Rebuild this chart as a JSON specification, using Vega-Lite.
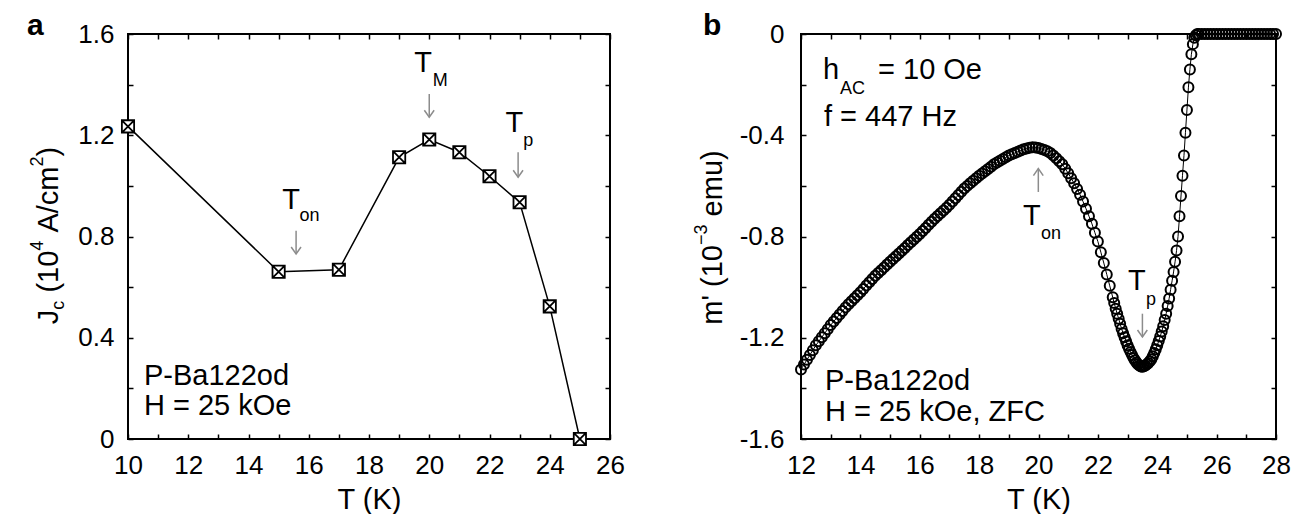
{
"$schema":"https://vega.github.io/schema/vega-lite/v6.json",
"padding":{"left":25,"top":10,"right":10,"bottom":5},
"bounds":"flush",
"spacing":191,
"config":{
 "view":{"stroke":"black","strokeWidth":2},
 "font":"Liberation Sans",
 "axis":{"domain":false,"grid":false,"tickColor":"black","tickWidth":1.5,"tickSize":-5,"labelFontSize":26,"labelColor":"black","labelFont":"Liberation Sans","titleFont":"Liberation Sans","titleFontSize":29,"titleFontWeight":"normal","titleColor":"black","labelOverlap":false,"labelFlush":false,"labelBound":false}
},
"datasets":{
 "jc":[{"T":10,"Jc":1.235},{"T":15,"Jc":0.661},{"T":17,"Jc":0.669},{"T":19,"Jc":1.113},{"T":20,"Jc":1.183},{"T":21,"Jc":1.133},{"T":22,"Jc":1.038},{"T":23,"Jc":0.935},{"T":24,"Jc":0.524},{"T":25,"Jc":0.0}],
 "mp":[
{"T":12.0,"m":-1.325},{"T":12.1,"m":-1.306},{"T":12.2,"m":-1.287},{"T":12.3,"m":-1.268},{"T":12.4,"m":-1.249},{"T":12.5,"m":-1.230},{"T":12.6,"m":-1.214},{"T":12.7,"m":-1.198},{"T":12.8,"m":-1.182},{"T":12.9,"m":-1.166},
{"T":13.0,"m":-1.150},{"T":13.1,"m":-1.136},{"T":13.2,"m":-1.122},{"T":13.3,"m":-1.108},{"T":13.4,"m":-1.094},{"T":13.5,"m":-1.080},{"T":13.6,"m":-1.068},{"T":13.7,"m":-1.056},{"T":13.8,"m":-1.044},{"T":13.9,"m":-1.032},
{"T":14.0,"m":-1.020},{"T":14.1,"m":-1.007},{"T":14.2,"m":-0.994},{"T":14.3,"m":-0.981},{"T":14.4,"m":-0.968},{"T":14.5,"m":-0.955},{"T":14.6,"m":-0.944},{"T":14.7,"m":-0.933},{"T":14.8,"m":-0.922},{"T":14.9,"m":-0.911},
{"T":15.0,"m":-0.900},{"T":15.1,"m":-0.889},{"T":15.2,"m":-0.878},{"T":15.3,"m":-0.867},{"T":15.4,"m":-0.856},{"T":15.5,"m":-0.845},{"T":15.6,"m":-0.834},{"T":15.7,"m":-0.823},{"T":15.8,"m":-0.812},{"T":15.9,"m":-0.801},
{"T":16.0,"m":-0.790},{"T":16.1,"m":-0.778},{"T":16.2,"m":-0.766},{"T":16.3,"m":-0.754},{"T":16.4,"m":-0.742},{"T":16.5,"m":-0.730},{"T":16.6,"m":-0.719},{"T":16.7,"m":-0.708},{"T":16.8,"m":-0.697},{"T":16.9,"m":-0.686},
{"T":17.0,"m":-0.675},{"T":17.1,"m":-0.662},{"T":17.2,"m":-0.649},{"T":17.3,"m":-0.636},{"T":17.4,"m":-0.623},{"T":17.5,"m":-0.610},{"T":17.6,"m":-0.600},{"T":17.7,"m":-0.590},{"T":17.8,"m":-0.580},{"T":17.9,"m":-0.570},
{"T":18.0,"m":-0.560},{"T":18.1,"m":-0.551},{"T":18.2,"m":-0.542},{"T":18.3,"m":-0.533},{"T":18.4,"m":-0.524},{"T":18.5,"m":-0.515},{"T":18.6,"m":-0.508},{"T":18.7,"m":-0.501},{"T":18.8,"m":-0.494},{"T":18.9,"m":-0.487},
{"T":19.0,"m":-0.480},{"T":19.1,"m":-0.475},{"T":19.2,"m":-0.470},{"T":19.3,"m":-0.465},{"T":19.4,"m":-0.460},{"T":19.5,"m":-0.455},{"T":19.6,"m":-0.452},{"T":19.7,"m":-0.449},{"T":19.8,"m":-0.447},{"T":19.9,"m":-0.448},
{"T":20.0,"m":-0.450},{"T":20.1,"m":-0.454},{"T":20.2,"m":-0.458},{"T":20.3,"m":-0.463},{"T":20.4,"m":-0.470},{"T":20.5,"m":-0.480},{"T":20.6,"m":-0.491},{"T":20.7,"m":-0.503},{"T":20.8,"m":-0.515},{"T":20.9,"m":-0.532},
{"T":21.0,"m":-0.550},{"T":21.1,"m":-0.570},{"T":21.2,"m":-0.590},{"T":21.3,"m":-0.612},{"T":21.4,"m":-0.635},{"T":21.5,"m":-0.662},{"T":21.6,"m":-0.690},{"T":21.7,"m":-0.720},{"T":21.8,"m":-0.750},{"T":21.9,"m":-0.785},
{"T":22.0,"m":-0.820},{"T":22.1,"m":-0.862},{"T":22.2,"m":-0.905},{"T":22.3,"m":-0.950},{"T":22.4,"m":-0.995},{"T":22.5,"m":-1.040},{"T":22.55,"m":-1.063},{"T":22.6,"m":-1.085},{"T":22.65,"m":-1.105},{"T":22.7,"m":-1.125},
{"T":22.75,"m":-1.145},{"T":22.8,"m":-1.165},{"T":22.85,"m":-1.182},{"T":22.9,"m":-1.198},{"T":22.95,"m":-1.214},{"T":23.0,"m":-1.230},{"T":23.05,"m":-1.243},{"T":23.1,"m":-1.256},{"T":23.15,"m":-1.268},{"T":23.2,"m":-1.280},
{"T":23.25,"m":-1.289},{"T":23.3,"m":-1.298},{"T":23.35,"m":-1.305},{"T":23.4,"m":-1.310},{"T":23.45,"m":-1.314},{"T":23.5,"m":-1.315},{"T":23.55,"m":-1.313},{"T":23.6,"m":-1.310},{"T":23.65,"m":-1.305},{"T":23.7,"m":-1.300},
{"T":23.75,"m":-1.293},{"T":23.8,"m":-1.285},{"T":23.85,"m":-1.273},{"T":23.9,"m":-1.260},{"T":23.95,"m":-1.245},{"T":24.0,"m":-1.230},{"T":24.05,"m":-1.213},{"T":24.1,"m":-1.195},{"T":24.15,"m":-1.175},{"T":24.2,"m":-1.155},
{"T":24.25,"m":-1.130},{"T":24.3,"m":-1.105},{"T":24.35,"m":-1.075},{"T":24.4,"m":-1.045},{"T":24.45,"m":-1.010},{"T":24.5,"m":-0.975},{"T":24.55,"m":-0.940},{"T":24.6,"m":-0.900},{"T":24.65,"m":-0.855},{"T":24.7,"m":-0.800},
{"T":24.75,"m":-0.720},{"T":24.8,"m":-0.640},{"T":24.85,"m":-0.560},{"T":24.9,"m":-0.480},{"T":24.95,"m":-0.390},{"T":25.0,"m":-0.300},{"T":25.05,"m":-0.210},{"T":25.1,"m":-0.140},{"T":25.15,"m":-0.080},{"T":25.2,"m":-0.040},
{"T":25.25,"m":-0.015},{"T":25.3,"m":-0.005},{"T":25.35,"m":0},{"T":25.4,"m":0},{"T":25.5,"m":0},{"T":25.6,"m":0},{"T":25.7,"m":0},{"T":25.8,"m":0},{"T":25.9,"m":0},{"T":26.0,"m":0},
{"T":26.1,"m":0},{"T":26.2,"m":0},{"T":26.3,"m":0},{"T":26.4,"m":0},{"T":26.5,"m":0},{"T":26.6,"m":0},{"T":26.7,"m":0},{"T":26.8,"m":0},{"T":26.9,"m":0},{"T":27.0,"m":0},
{"T":27.1,"m":0},{"T":27.2,"m":0},{"T":27.3,"m":0},{"T":27.4,"m":0},{"T":27.5,"m":0},{"T":27.6,"m":0},{"T":27.7,"m":0},{"T":27.8,"m":0},{"T":27.9,"m":0},{"T":28.0,"m":0}
 ],
 "txtA":[
  {"T":15.12,"v":0.909,"text":"T","role":"main"},
  {"T":19.50,"v":1.449,"text":"T","role":"main"},
  {"T":22.53,"v":1.212,"text":"T","role":"main"},
  {"T":10.53,"v":0.2133,"text":"P-Ba122od","role":"main"},
  {"T":10.53,"v":0.0948,"text":"H = 25 kOe","role":"main"},
  {"T":15.69,"v":0.863,"text":"on","role":"sub"},
  {"T":20.12,"v":1.396,"text":"M","role":"sub"},
  {"T":23.12,"v":1.159,"text":"p","role":"sub"},
  {"T":6.647,"v":1.596,"text":"a","role":"letter"},
  {"T":7.660,"v":0.4535,"text":"J","role":"ymain"},
  {"T":7.876,"v":0.5108,"text":"c","role":"yscript"},
  {"T":7.660,"v":0.5784,"text":"(10","role":"ymain"},
  {"T":7.178,"v":0.7439,"text":"4","role":"yscript"},
  {"T":7.660,"v":0.8154,"text":"A/cm","role":"ymain"},
  {"T":7.178,"v":1.0761,"text":"2","role":"yscript"},
  {"T":7.660,"v":1.1157,"text":")","role":"ymain"}
 ],
 "txtB":[
  {"T":12.741,"v":-0.1778,"text":"h","role":"main"},
  {"T":14.594,"v":-0.1778,"text":"= 10 Oe","role":"main"},
  {"T":12.775,"v":-0.3635,"text":"f = 447 Hz","role":"main"},
  {"T":12.808,"v":-1.406,"text":"P-Ba122od","role":"main"},
  {"T":12.808,"v":-1.529,"text":"H = 25 kOe, ZFC","role":"main"},
  {"T":19.478,"v":-0.7557,"text":"T","role":"main"},
  {"T":23.015,"v":-1.0125,"text":"T","role":"main"},
  {"T":13.314,"v":-0.237,"text":"AC","role":"sub"},
  {"T":20.084,"v":-0.8087,"text":"on","role":"sub"},
  {"T":23.621,"v":-1.0718,"text":"p","role":"sub"},
  {"T":8.699,"v":-0.004,"text":"b","role":"letter"},
  {"T":9.339,"v":-1.1485,"text":"m' (10","role":"ymain"},
  {"T":8.817,"v":-0.8336,"text":"−3","role":"yscript"},
  {"T":9.339,"v":-0.7206,"text":"emu)","role":"ymain"}
 ],
 "arrA":[{"T":15.58,"tail":0.823,"tip":0.731},{"T":20.0,"tail":1.363,"tip":1.271},{"T":22.95,"tail":1.133,"tip":1.034}],
 "arrB":[{"T":19.994,"tail":-0.624,"tip":-0.532},{"T":23.5,"tail":-1.105,"tip":-1.197}]
},
"hconcat":[
 {
  "width":482,"height":405,
  "resolve":{"axis":{"x":"independent","y":"independent"}},
  "layer":[
   {"data":{"name":"jc"},"mark":{"type":"line","color":"black","strokeWidth":1.5},
    "encoding":{
     "x":{"field":"T","type":"quantitative","scale":{"domain":[10,26],"nice":false,"zero":false},
      "axis":{"orient":"bottom","title":"T (K)","values":[10,11,12,13,14,15,16,17,18,19,20,21,22,23,24,25,26],"labelExpr":"datum.value % 2 === 0 ? '' + datum.value : ''","labelPadding":18,"titlePadding":7}},
     "y":{"field":"Jc","type":"quantitative","scale":{"domain":[0,1.6],"nice":false,"zero":false},
      "axis":{"orient":"left","title":null,"values":[0,0.2,0.4,0.6,0.8,1,1.2,1.4,1.6],"labelExpr":"round(datum.value*10) % 4 === 0 ? '' + datum.value : ''","labelPadding":19}}}},
   {"data":{"name":"jc"},"mark":{"type":"point","shape":"M-1,-1L1,-1L1,1L-1,1Z M-1,-1L1,1 M-1,1L1,-1","size":150,"filled":true,"fill":"white","stroke":"black","strokeWidth":1.8,"opacity":1},
    "encoding":{
     "x":{"field":"T","type":"quantitative","scale":{"domain":[10,26],"nice":false,"zero":false},
      "axis":{"orient":"top","title":null,"labels":false,"values":[10,11,12,13,14,15,16,17,18,19,20,21,22,23,24,25,26]}},
     "y":{"field":"Jc","type":"quantitative","scale":{"domain":[0,1.6],"nice":false,"zero":false},
      "axis":{"orient":"right","title":null,"labels":false,"values":[0,0.2,0.4,0.6,0.8,1,1.2,1.4,1.6]}}}},
   {"data":{"name":"arrA"},"mark":{"type":"rule","color":"#8c8c8c","strokeWidth":1.5},
    "encoding":{
     "x":{"field":"T","type":"quantitative","scale":{"domain":[10,26],"nice":false,"zero":false},"axis":null},
     "y":{"field":"tail","type":"quantitative","scale":{"domain":[0,1.6],"nice":false,"zero":false},"axis":null},
     "y2":{"field":"tip"}}},
   {"data":{"name":"arrA"},"mark":{"type":"point","shape":"M-0.7,-1L0,0L0.7,-1","size":196,"filled":false,"color":"#8c8c8c","strokeWidth":1.5,"opacity":1},
    "encoding":{
     "x":{"field":"T","type":"quantitative","scale":{"domain":[10,26],"nice":false,"zero":false},"axis":null},
     "y":{"field":"tip","type":"quantitative","scale":{"domain":[0,1.6],"nice":false,"zero":false},"axis":null}}},
   {"data":{"name":"txtA"},"transform":[{"filter":"datum.role === 'main'"}],
    "mark":{"type":"text","align":"left","baseline":"alphabetic","fontSize":29,"color":"black"},
    "encoding":{
     "x":{"field":"T","type":"quantitative","scale":{"domain":[10,26],"nice":false,"zero":false},"axis":null},
     "y":{"field":"v","type":"quantitative","scale":{"domain":[0,1.6],"nice":false,"zero":false},"axis":null},
     "text":{"field":"text"}}},
   {"data":{"name":"txtA"},"transform":[{"filter":"datum.role === 'sub'"}],
    "mark":{"type":"text","align":"left","baseline":"alphabetic","fontSize":18,"color":"black"},
    "encoding":{
     "x":{"field":"T","type":"quantitative","scale":{"domain":[10,26],"nice":false,"zero":false},"axis":null},
     "y":{"field":"v","type":"quantitative","scale":{"domain":[0,1.6],"nice":false,"zero":false},"axis":null},
     "text":{"field":"text"}}},
   {"data":{"name":"txtA"},"transform":[{"filter":"datum.role === 'letter'"}],
    "mark":{"type":"text","align":"left","baseline":"alphabetic","fontSize":30,"fontWeight":"bold","color":"black"},
    "encoding":{
     "x":{"field":"T","type":"quantitative","scale":{"domain":[10,26],"nice":false,"zero":false},"axis":null},
     "y":{"field":"v","type":"quantitative","scale":{"domain":[0,1.6],"nice":false,"zero":false},"axis":null},
     "text":{"field":"text"}}},
   {"data":{"name":"txtA"},"transform":[{"filter":"datum.role === 'ymain'"}],
    "mark":{"type":"text","align":"left","baseline":"alphabetic","fontSize":29,"angle":270,"color":"black"},
    "encoding":{
     "x":{"field":"T","type":"quantitative","scale":{"domain":[10,26],"nice":false,"zero":false},"axis":null},
     "y":{"field":"v","type":"quantitative","scale":{"domain":[0,1.6],"nice":false,"zero":false},"axis":null},
     "text":{"field":"text"}}},
   {"data":{"name":"txtA"},"transform":[{"filter":"datum.role === 'yscript'"}],
    "mark":{"type":"text","align":"left","baseline":"alphabetic","fontSize":18,"angle":270,"color":"black"},
    "encoding":{
     "x":{"field":"T","type":"quantitative","scale":{"domain":[10,26],"nice":false,"zero":false},"axis":null},
     "y":{"field":"v","type":"quantitative","scale":{"domain":[0,1.6],"nice":false,"zero":false},"axis":null},
     "text":{"field":"text"}}}
  ]
 },
 {
  "width":475,"height":405,
  "resolve":{"axis":{"x":"independent","y":"independent"}},
  "layer":[
   {"data":{"name":"mp"},"mark":{"type":"line","color":"black","strokeWidth":1},
    "encoding":{
     "x":{"field":"T","type":"quantitative","scale":{"domain":[12,28],"nice":false,"zero":false},
      "axis":{"orient":"bottom","title":"T (K)","values":[12,13,14,15,16,17,18,19,20,21,22,23,24,25,26,27,28],"labelExpr":"datum.value % 2 === 0 ? '' + datum.value : ''","labelPadding":18,"titlePadding":7}},
     "y":{"field":"m","type":"quantitative","scale":{"domain":[-1.6,0],"nice":false,"zero":false},
      "axis":{"orient":"left","title":null,"values":[-1.6,-1.4,-1.2,-1,-0.8,-0.6,-0.4,-0.2,0],"labelExpr":"round(datum.value*10) % 4 === 0 ? '' + datum.value : ''","labelPadding":22}}}},
   {"data":{"name":"mp"},"mark":{"type":"point","shape":"circle","size":100,"filled":false,"color":"black","strokeWidth":2,"opacity":1},
    "encoding":{
     "x":{"field":"T","type":"quantitative","scale":{"domain":[12,28],"nice":false,"zero":false},
      "axis":{"orient":"top","title":null,"labels":false,"values":[12,13,14,15,16,17,18,19,20,21,22,23,24,25,26,27,28]}},
     "y":{"field":"m","type":"quantitative","scale":{"domain":[-1.6,0],"nice":false,"zero":false},
      "axis":{"orient":"right","title":null,"labels":false,"values":[-1.6,-1.4,-1.2,-1,-0.8,-0.6,-0.4,-0.2,0]}}}},
   {"data":{"name":"arrB"},"mark":{"type":"rule","color":"#8c8c8c","strokeWidth":1.5},
    "encoding":{
     "x":{"field":"T","type":"quantitative","scale":{"domain":[12,28],"nice":false,"zero":false},"axis":null},
     "y":{"field":"tail","type":"quantitative","scale":{"domain":[-1.6,0],"nice":false,"zero":false},"axis":null},
     "y2":{"field":"tip"}}},
   {"data":{"name":"arrB"},"transform":[{"filter":"datum.tail > datum.tip"}],"mark":{"type":"point","shape":"M-0.7,-1L0,0L0.7,-1","size":196,"filled":false,"color":"#8c8c8c","strokeWidth":1.5,"opacity":1},
    "encoding":{
     "x":{"field":"T","type":"quantitative","scale":{"domain":[12,28],"nice":false,"zero":false},"axis":null},
     "y":{"field":"tip","type":"quantitative","scale":{"domain":[-1.6,0],"nice":false,"zero":false},"axis":null}}},
   {"data":{"name":"arrB"},"transform":[{"filter":"datum.tail < datum.tip"}],"mark":{"type":"point","shape":"M-0.7,1L0,0L0.7,1","size":196,"filled":false,"color":"#8c8c8c","strokeWidth":1.5,"opacity":1},
    "encoding":{
     "x":{"field":"T","type":"quantitative","scale":{"domain":[12,28],"nice":false,"zero":false},"axis":null},
     "y":{"field":"tip","type":"quantitative","scale":{"domain":[-1.6,0],"nice":false,"zero":false},"axis":null}}},
   {"data":{"name":"txtB"},"transform":[{"filter":"datum.role === 'main'"}],
    "mark":{"type":"text","align":"left","baseline":"alphabetic","fontSize":29,"color":"black"},
    "encoding":{
     "x":{"field":"T","type":"quantitative","scale":{"domain":[12,28],"nice":false,"zero":false},"axis":null},
     "y":{"field":"v","type":"quantitative","scale":{"domain":[-1.6,0],"nice":false,"zero":false},"axis":null},
     "text":{"field":"text"}}},
   {"data":{"name":"txtB"},"transform":[{"filter":"datum.role === 'sub'"}],
    "mark":{"type":"text","align":"left","baseline":"alphabetic","fontSize":18,"color":"black"},
    "encoding":{
     "x":{"field":"T","type":"quantitative","scale":{"domain":[12,28],"nice":false,"zero":false},"axis":null},
     "y":{"field":"v","type":"quantitative","scale":{"domain":[-1.6,0],"nice":false,"zero":false},"axis":null},
     "text":{"field":"text"}}},
   {"data":{"name":"txtB"},"transform":[{"filter":"datum.role === 'letter'"}],
    "mark":{"type":"text","align":"left","baseline":"alphabetic","fontSize":30,"fontWeight":"bold","color":"black"},
    "encoding":{
     "x":{"field":"T","type":"quantitative","scale":{"domain":[12,28],"nice":false,"zero":false},"axis":null},
     "y":{"field":"v","type":"quantitative","scale":{"domain":[-1.6,0],"nice":false,"zero":false},"axis":null},
     "text":{"field":"text"}}},
   {"data":{"name":"txtB"},"transform":[{"filter":"datum.role === 'ymain'"}],
    "mark":{"type":"text","align":"left","baseline":"alphabetic","fontSize":29,"angle":270,"color":"black"},
    "encoding":{
     "x":{"field":"T","type":"quantitative","scale":{"domain":[12,28],"nice":false,"zero":false},"axis":null},
     "y":{"field":"v","type":"quantitative","scale":{"domain":[-1.6,0],"nice":false,"zero":false},"axis":null},
     "text":{"field":"text"}}},
   {"data":{"name":"txtB"},"transform":[{"filter":"datum.role === 'yscript'"}],
    "mark":{"type":"text","align":"left","baseline":"alphabetic","fontSize":18,"angle":270,"color":"black"},
    "encoding":{
     "x":{"field":"T","type":"quantitative","scale":{"domain":[12,28],"nice":false,"zero":false},"axis":null},
     "y":{"field":"v","type":"quantitative","scale":{"domain":[-1.6,0],"nice":false,"zero":false},"axis":null},
     "text":{"field":"text"}}}
  ]
 }
]
}
